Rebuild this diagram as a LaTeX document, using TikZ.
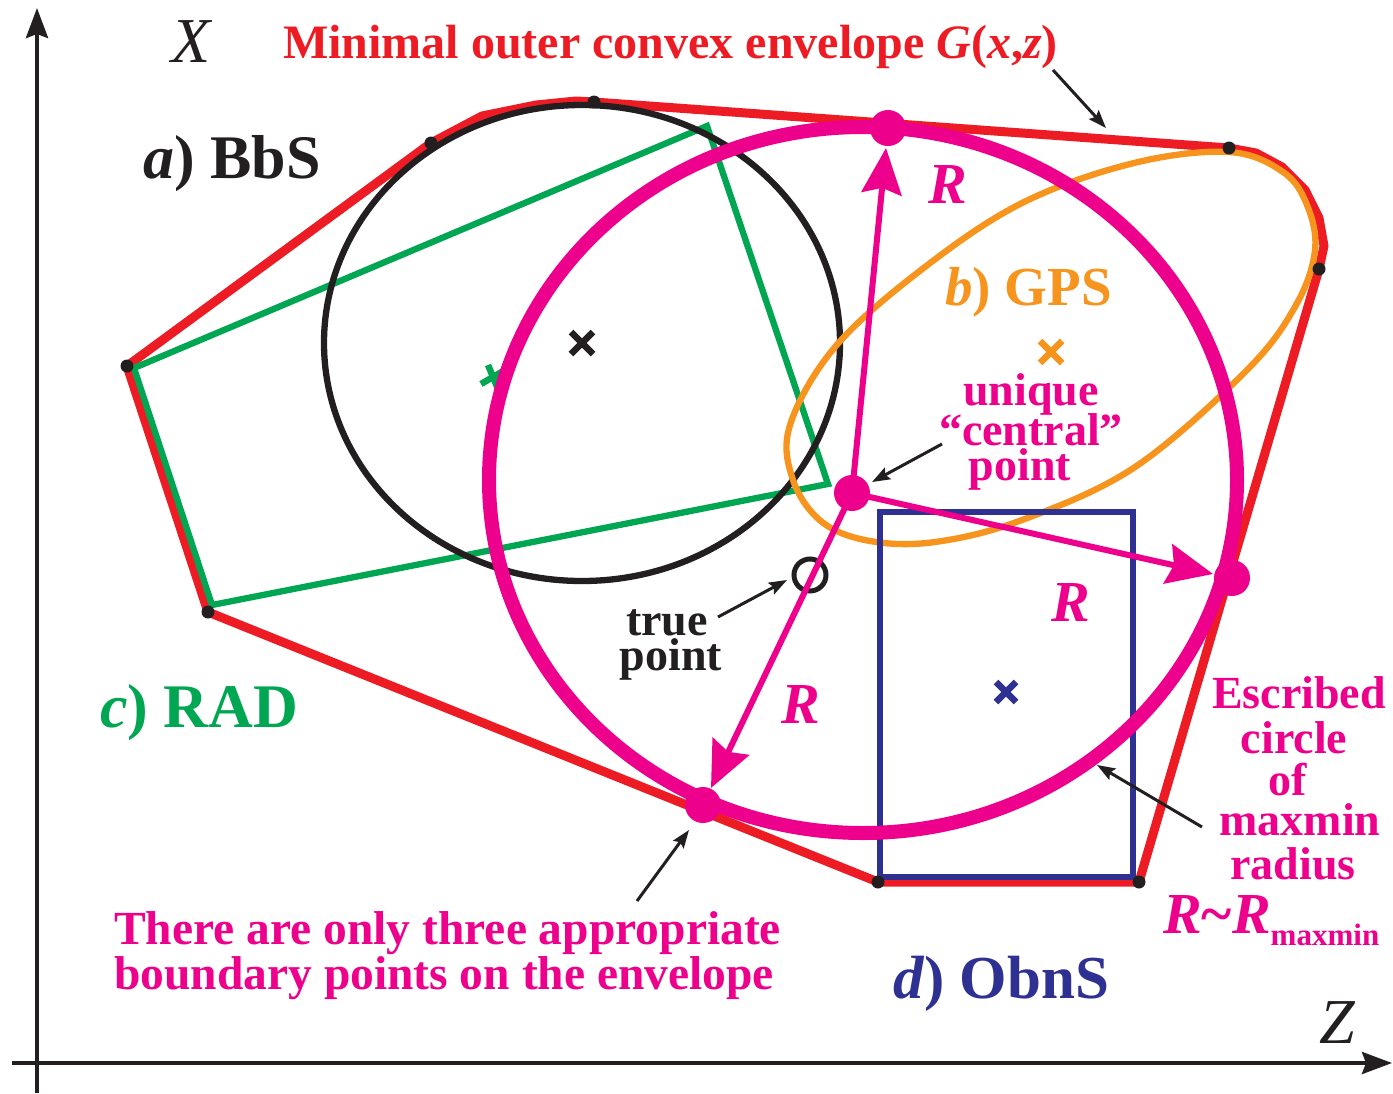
\documentclass[tikz,border=0pt]{standalone}
\usepackage{fontspec}
\setmainfont{Liberation Serif}
\usetikzlibrary{arrows.meta}
\definecolor{envred}{HTML}{ED1C24}
\definecolor{radgreen}{HTML}{00A651}
\definecolor{inkblack}{HTML}{231F20}
\definecolor{gpsorange}{HTML}{F7941D}
\definecolor{escmag}{HTML}{EC008C}
\definecolor{obnblue}{HTML}{2E3192}
\tikzset{
  axisline/.style={line width=4pt, draw=inkblack, -{Stealth[length=30pt,width=22pt,inset=4pt]}},
  envelope/.style={line width=9pt, draw=envred, line join=round},
  vdot/.style={circle, fill=inkblack, inner sep=0pt, minimum size=13pt},
  mdot/.style={circle, fill=escmag, inner sep=0pt, minimum size=36pt},
  rarrow/.style={line width=6pt, draw=escmag, -{Stealth[length=46pt,width=40pt,inset=6pt]}},
  callout/.style={line width=3pt, draw=inkblack, -{Stealth[length=18pt,width=13pt,inset=3pt]}},
  shapeline/.style={line width=6.3pt},
  xmark/.style={line width=6.5pt},
  lbl/.style={font=\fontsize{62}{62}\selectfont\bfseries, inner sep=0pt, anchor=base west},
  txt/.style={font=\fontsize{46}{46}\selectfont\bfseries, inner sep=0pt, anchor=base},
  rlbl/.style={font=\fontsize{58}{58}\selectfont\bfseries\itshape, inner sep=0pt, anchor=base, text=escmag},
  axlbl/.style={font=\fontsize{64}{64}\selectfont\itshape, inner sep=0pt, anchor=base, text=inkblack},
}
\begin{document}
\begin{tikzpicture}[x=1pt,y=-1pt]
\useasboundingbox (0,0) rectangle (1393,1093);
% axes
\coordinate (yaxb) at (37,1093);
\coordinate (yaxt) at (37,8);
\coordinate (xaxl) at (12,1063);
\coordinate (xaxr) at (1392,1063);
\draw[axisline] (yaxb) -- (yaxt);
\draw[axisline] (xaxl) -- (xaxr);
\node[axlbl] (xlab) at (191,62) {X};
\node[axlbl] (zlab) at (1337,1043) {Z};
% envelope vertices
\coordinate (v1) at (127,366);
\coordinate (v2) at (431,143);
\coordinate (v3) at (594,102);
\coordinate (v4) at (1229,148);
\coordinate (v5) at (1319,269);
\coordinate (v6) at (1139,882);
\coordinate (v7) at (878,882);
\coordinate (v8) at (208,612);
\draw[envelope] (v1) -- (v2) -- (482,116) -- (536,105) -- (576,101) -- (v3) -- (v4)
  -- (1256,153) -- (1282,167) -- (1305,190) -- (1319,218) -- (1324,246) -- (v5)
  -- (v6) -- (v7) -- (v8) -- cycle;
% RAD quadrilateral
\coordinate (g1) at (134,368);
\coordinate (g2) at (707,126);
\coordinate (g3) at (828,484);
\coordinate (g4) at (212,605);
\draw[shapeline, draw=radgreen, line join=miter] (g1) -- (g2) -- (g3) -- (g4) -- cycle;
\draw[xmark, draw=radgreen] (481,384) -- (505,370) (488,365) -- (498,389);
% BbS circle
\coordinate (bc) at (582,343);
\draw[shapeline, draw=inkblack] (bc) ellipse [x radius=258pt, y radius=238pt];
\draw[xmark, draw=inkblack] (571,332) -- (593,354) (571,354) -- (593,332);
% GPS curve
\draw[shapeline, draw=gpsorange] plot[smooth cycle, tension=0.6] coordinates {
  (1229,152) (1134,163) (1022,203) (921,270) (835,347) (790,425) (793,480)
  (822,522) (870,541) (935,542) (1022,520) (1135,467) (1247,370) (1296,305)
  (1315,250) (1307,205) (1283,172)};
\draw[xmark, draw=gpsorange] (1040,341) -- (1062,363) (1040,363) -- (1062,341);
% ObnS rectangle
\coordinate (r1) at (880,512);
\coordinate (r2) at (1133,877);
\draw[line width=6.5pt, draw=obnblue] (r1) rectangle (r2);
\draw[xmark, draw=obnblue] (996,682) -- (1016,702) (996,702) -- (1016,682);
% escribed circle
\coordinate (mc) at (863,480);
\draw[line width=14pt, draw=escmag] (mc) ellipse [x radius=374pt, y radius=353pt];
% vertex dots
\foreach \v in {v1,v2,v3,v4,v5,v6,v7,v8} \node[vdot] (d\v) at (\v) {};
% true point
\node[circle, draw=inkblack, line width=5pt, minimum size=32pt, inner sep=0pt] (tp) at (810,575) {};
% magenta points and arrows
\node[mdot] (cp) at (852,493) {};
\node[mdot] (pu) at (888,128) {};
\node[mdot] (pr) at (1232,578) {};
\node[mdot] (pd) at (703,805) {};
\coordinate (tu) at (886,148);
\coordinate (tr) at (1213,574);
\coordinate (td) at (711,788);
\draw[rarrow] (cp.center) -- (tu);
\draw[rarrow] (cp.center) -- (tr);
\draw[rarrow] (cp.center) -- (td);
\node[rlbl] (ru) at (948,203) {R};
\node[rlbl] (rr) at (1071,621) {R};
\node[rlbl] (rd) at (801,723) {R};
% title
\node[font=\fontsize{48}{48}\selectfont\bfseries, text=envred, anchor=base west, inner sep=0pt] (title) at (283,58)
  {Minimal outer convex envelope \textit{G}(\textit{x},\textit{z})};
\coordinate (ta1) at (1053,70);
\coordinate (ta2) at (1106,128);
\draw[callout] (ta1) -- (ta2);
% labels
\node[lbl, text=inkblack] (la) at (143,178) {\textit{a}) BbS};
\node[lbl, text=gpsorange, font=\fontsize{55}{55}\selectfont\bfseries] (lb) at (945,305) {\textit{b}) GPS};
\node[lbl, text=radgreen] (lc) at (100,727) {\textit{c}) RAD};
\node[lbl, text=obnblue, font=\fontsize{61}{61}\selectfont\bfseries] (ld) at (893,998) {\textit{d}) ObnS};
% central point text
\node[txt, text=escmag] (cen1) at (1031,405) {unique};
\node[txt, text=escmag] (cen2) at (1031,445) {``central''};
\node[txt, text=escmag] (cen3) at (1020,480) {point};
\coordinate (ca1) at (942,444);
\coordinate (ca2) at (872,482);
\draw[callout] (ca1) -- (ca2);
% true point text
\node[txt, text=inkblack] (tp1) at (667,635) {true};
\node[txt, text=inkblack] (tp2) at (671,670) {point};
\coordinate (tpa1) at (718,617);
\coordinate (tpa2) at (787,580);
\draw[callout] (tpa1) -- (tpa2);
% escribed text
\node[txt, text=escmag] (es1) at (1299,708) {Escribed};
\node[txt, text=escmag] (es2) at (1294,753) {circle};
\node[txt, text=escmag] (es3) at (1288,795) {of};
\node[txt, text=escmag] (es4) at (1300,835) {maxmin};
\node[txt, text=escmag] (es5) at (1293,879) {radius};
\node[font=\fontsize{58}{58}\selectfont\bfseries, text=escmag, anchor=base west, inner sep=0pt] (es6) at (1163,933)
  {\textit{R}\textasciitilde\textit{R}\raisebox{-12pt}{\fontsize{31}{31}\selectfont maxmin}};
\coordinate (ea1) at (1202,827);
\coordinate (ea2) at (1097,765);
\draw[callout] (ea1) -- (ea2);
% bottom text
\node[txt, text=escmag, anchor=base west, font=\fontsize{47.5}{47.5}\selectfont\bfseries] (bt1) at (114,944) {There are only three appropriate};
\node[txt, text=escmag, anchor=base west, font=\fontsize{47.5}{47.5}\selectfont\bfseries] (bt2) at (114,989) {boundary points on the envelope};
\coordinate (ba1) at (637,901);
\coordinate (ba2) at (689,830);
\draw[callout] (ba1) -- (ba2);
\end{tikzpicture}
\end{document}
